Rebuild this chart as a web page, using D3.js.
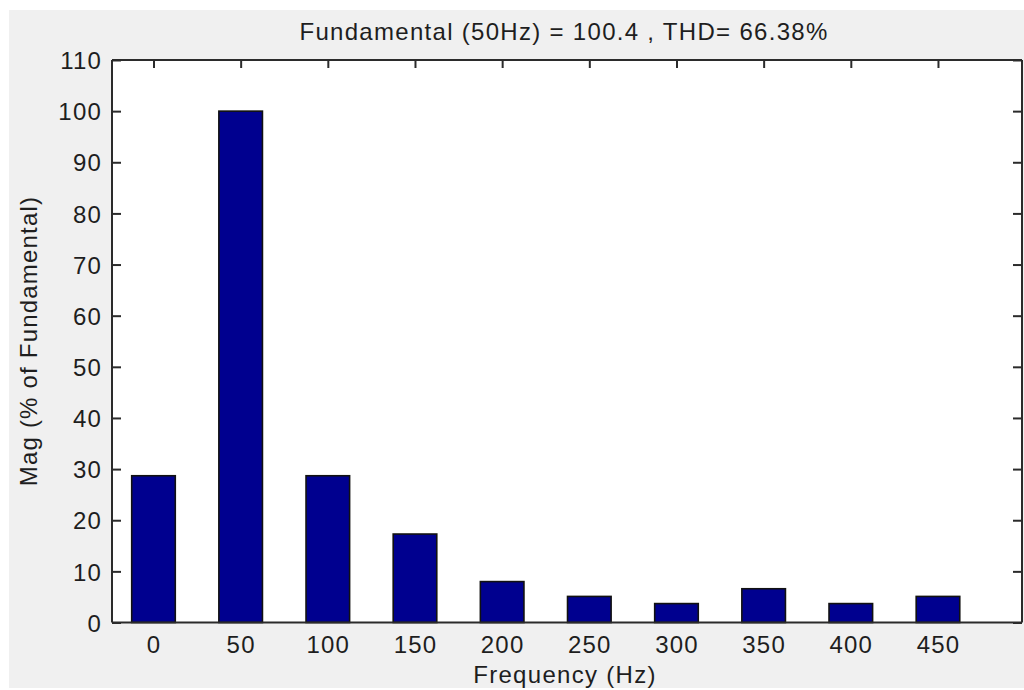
<!DOCTYPE html>
<html>
<head>
<meta charset="utf-8">
<script src="https://cdn.jsdelivr.net/npm/d3@7"></script>
<style>
  html, body { margin: 0; padding: 0; background: #ffffff; }
  svg { display: block; }
  text { font-family: Arial, "Liberation Sans", sans-serif; fill: #1e1e1e; }
</style>
</head>
<body>
<svg id="chart" width="1024" height="690"></svg>
<script>
// Harmonic spectrum: frequency bins (Hz) and magnitude in % of fundamental
const frequencies = [0, 50, 100, 150, 200, 250, 300, 350, 400, 450];
const magnitudes  = [28.7, 100, 28.7, 17.3, 8.0, 5.1, 3.7, 6.6, 3.7, 5.1];
const yTicks = [0, 10, 20, 30, 40, 50, 60, 70, 80, 90, 100, 110];
const xTicks = [0, 50, 100, 150, 200, 250, 300, 350, 400, 450];
const titleText = "Fundamental (50Hz) = 100.4 , THD= 66.38%";
const xLabel = "Frequency (Hz)";
const yLabel = "Mag (% of Fundamental)";

const svg = d3.select("#chart");
const plotL = 112, plotR = 1022, plotT = 60, plotB = 622.5;

// figure background
svg.append("rect").attr("x", 9).attr("y", 10).attr("width", 1015).attr("height", 678)
  .attr("fill", "#f0f0f0");

// axes area
svg.append("rect").attr("x", plotL).attr("y", plotT)
  .attr("width", plotR - plotL).attr("height", plotB - plotT).attr("fill", "#ffffff");

const x = d3.scaleLinear().domain([-23.8, 498.2]).range([plotL, plotR]);
const y = d3.scaleLinear().domain([0, 110]).range([plotB, plotT]);
const barW = 25; // Hz

// bars
svg.append("g").selectAll("rect").data(frequencies).join("rect")
  .attr("x", (d) => x(d - barW / 2))
  .attr("width", x(barW) - x(0))
  .attr("y", (d, i) => y(magnitudes[i]))
  .attr("height", (d, i) => y(0) - y(magnitudes[i]))
  .attr("fill", "#00008f")
  .attr("stroke", "#111111")
  .attr("stroke-width", 1.6);

const axisColor = "#2b2b2b";
const tickLen = 9;

// box
const box = svg.append("g").attr("stroke", axisColor).attr("stroke-width", 2).attr("fill", "none");
box.append("line").attr("x1", plotL).attr("x2", plotR).attr("y1", plotT).attr("y2", plotT);
box.append("line").attr("x1", plotL).attr("x2", plotR).attr("y1", plotB).attr("y2", plotB);
box.append("line").attr("x1", plotL).attr("x2", plotL).attr("y1", plotT).attr("y2", plotB);
box.append("line").attr("x1", plotR).attr("x2", plotR).attr("y1", plotT).attr("y2", plotB);

// left y axis
const yAxisL = svg.append("g").attr("transform", `translate(${plotL},0)`)
  .call(d3.axisRight(y).tickValues(yTicks).tickSize(tickLen).tickFormat(""));
// right y axis
const yAxisR = svg.append("g").attr("transform", `translate(${plotR},0)`)
  .call(d3.axisLeft(y).tickValues(yTicks).tickSize(tickLen).tickFormat(""));
// top x axis ticks
const xAxisT = svg.append("g").attr("transform", `translate(0,${plotT})`)
  .call(d3.axisBottom(x).tickValues(xTicks).tickSize(8).tickFormat(""));
[yAxisL, yAxisR, xAxisT].forEach((g) => {
  g.select(".domain").remove();
  g.selectAll(".tick line").attr("stroke", axisColor).attr("stroke-width", 2);
});

// y tick labels
const yLab = svg.append("g").attr("transform", `translate(${plotL},0)`)
  .call(d3.axisLeft(y).tickValues(yTicks).tickSize(0).tickPadding(10));
yLab.select(".domain").remove();
yLab.selectAll(".tick line").remove();
yLab.selectAll(".tick text").attr("font-size", 24).attr("font-family", null)
  .attr("fill", "#1e1e1e").attr("letter-spacing", "1.2px").attr("dy", "0.36em");

// x tick labels
const xLab = svg.append("g").attr("transform", `translate(0,${plotB})`)
  .call(d3.axisBottom(x).tickValues(xTicks).tickSize(0).tickPadding(0));
xLab.select(".domain").remove();
xLab.selectAll(".tick line").remove();
xLab.selectAll(".tick text").attr("font-size", 24).attr("font-family", null)
  .attr("fill", "#1e1e1e").attr("letter-spacing", "1.2px")
  .attr("y", 653 - plotB).attr("dy", 0);

// title and axis labels
svg.append("text").attr("x", 564).attr("y", 39.5).attr("text-anchor", "middle")
  .attr("font-size", 24).attr("letter-spacing", "1.3px").text(titleText);
svg.append("text").attr("x", 565).attr("y", 683).attr("text-anchor", "middle")
  .attr("font-size", 24).attr("letter-spacing", "1.3px").text(xLabel);
svg.append("text").attr("transform", "translate(37,341) rotate(-90)")
  .attr("text-anchor", "middle")
  .attr("font-size", 24).attr("letter-spacing", "1.2px").text(yLabel);
</script>
</body>
</html>
